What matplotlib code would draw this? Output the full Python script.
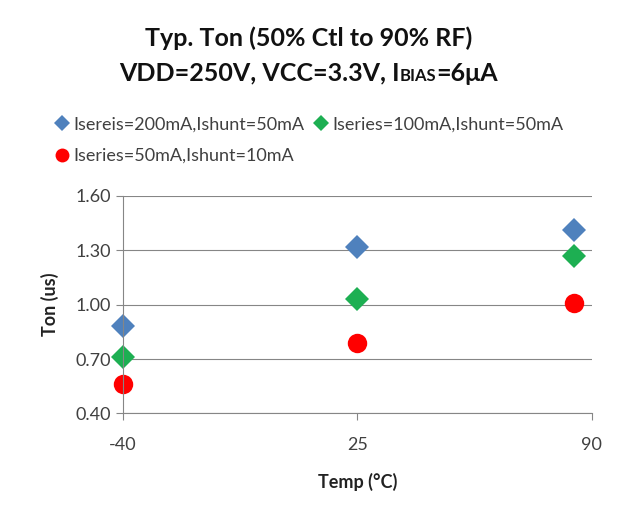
import matplotlib
matplotlib.use("Agg")
import matplotlib.pyplot as plt

plt.rcParams['font.family'] = ['Lato', 'DejaVu Sans']
plt.rcParams['axes.unicode_minus'] = False

temps = [-40, 25, 85]
xticks = [-40, 25, 90]
yticks = [0.40, 0.70, 1.00, 1.30, 1.60]

ton_200 = [0.88, 1.32, 1.41]
ton_100 = [0.71, 1.03, 1.27]
ton_50 = [0.56, 0.79, 1.01]

labels = ['Isereis=200mA,Ishunt=50mA',
          'Iseries=100mA,Ishunt=50mA',
          'Iseries=50mA,Ishunt=10mA']

grey = '#868686'
txt = '#404040'

fig = plt.figure(figsize=(6.17, 5.22), dpi=100)
ax = fig.add_axes([0.199, 0.208, 0.760, 0.417])

h1, = ax.plot(temps, ton_200, 'D', color='#4F81BD', ms=12.5, mew=0, clip_on=False)
h2, = ax.plot(temps, ton_100, 'D', color='#1DAF52', ms=12.5, mew=0, clip_on=False)
h3, = ax.plot(temps, ton_50, 'o', color='#FF0000', ms=14, mew=0, clip_on=False)

ax.set_xlim(-40, 90)
ax.set_ylim(0.40, 1.60)
ax.set_xticks(xticks)
ax.set_yticks(yticks)
ax.set_yticklabels(['%.2f' % v for v in yticks])
ax.grid(axis='y', color=grey, lw=0.8)
ax.set_axisbelow(True)
for s in ['top', 'right']:
    ax.spines[s].set_visible(False)
for s in ['left', 'bottom']:
    ax.spines[s].set_color(grey)
    ax.spines[s].set_linewidth(0.8)
ax.tick_params(colors=grey, labelcolor=txt, labelsize=13, length=5, width=0.8)
ax.tick_params(axis='x', pad=12)

ax.set_xlabel('Temp (°C)', fontsize=13, fontweight='bold', labelpad=14, color='#222222')
ax.set_ylabel('Ton (us)', fontsize=13, fontweight='bold', labelpad=12, color='#222222')

leg = fig.legend([h1, h3, h2], [labels[0], labels[2], labels[1]], ncol=2,
                 loc='upper center', bbox_to_anchor=(0.5, 0.808), frameon=False,
                 fontsize=13, handletextpad=0.15, columnspacing=0.5,
                 labelspacing=0.85, handlelength=0.9, labelcolor=txt)
for hnd, ms in zip(leg.legend_handles, [8, 10, 8]):
    hnd.set_markersize(ms)

# title, with small "BIAS" caps
fig.text(0.5, 0.912, 'Typ. Ton (50% Ctl to 90% RF)', ha='center', va='baseline',
         fontsize=18, fontweight='bold', color='#111111')
parts = [('VDD=250V, VCC=3.3V, I', 18), ('BIAS', 12), ('=6μA', 18)]
texts = [fig.text(0, 0.845, p, ha='left', va='baseline', fontsize=fs,
                  fontweight='bold', color='#111111') for p, fs in parts]
r = fig.canvas.get_renderer()
widths = [t.get_window_extent(r).width / fig.bbox.width for t in texts]
x = 0.5 - sum(widths) / 2
for t, w in zip(texts, widths):
    t.set_x(x)
    x += w

fig.savefig('out.png', dpi=100)
